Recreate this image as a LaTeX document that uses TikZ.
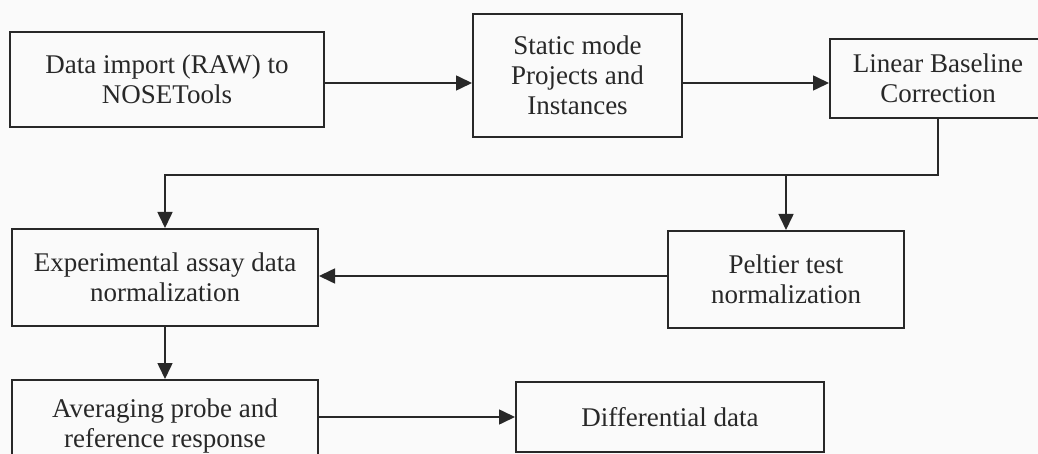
\documentclass[tikz,border=0pt]{standalone}
\usepackage{fontspec}
\setmainfont{Liberation Serif}
\usetikzlibrary{arrows.meta}

\definecolor{ink}{RGB}{40,40,40}
\definecolor{paper}{RGB}{250,250,250}

\begin{document}
\begin{tikzpicture}[x=0.5pt,y=-0.5pt,
  box/.style={draw=ink,line width=1pt,inner sep=0pt,align=center,text=ink,
    font=\fontsize{13.5}{15}\selectfont},
  flow/.style={draw=ink,line width=0.8pt,-{Triangle[length=8pt,width=7.5pt]}}]
  \fill[paper] (0,0) rectangle (1038,454);
  \useasboundingbox (0,0) rectangle (1038,454);

  \node[box,minimum width=157pt,minimum height=47.5pt] (S-1) at (167,79.5) {Data import (RAW) to\\NOSETools};
  \node[box,minimum width=104.5pt,minimum height=61.5pt] (S-2) at (577.5,75.5) {Static mode\\Projects and\\Instances};
  \node[box,minimum width=108pt,minimum height=39.5pt] (S-3) at (938,78.5) {Linear Baseline\\Correction};
  \node[box,minimum width=153pt,minimum height=48.5pt] (S-4) at (165,277.5) {Experimental assay data\\normalization};
  \node[box,minimum width=118pt,minimum height=48.5pt] (S-5) at (786,279.5) {Peltier test\\normalization};
  \node[box,minimum width=153pt,minimum height=46pt] (S-6) at (165,426) {Averaging probe and\\reference response};
  \node[box,minimum width=154pt,minimum height=35pt] (S-7) at (670,417) {Differential data};
  \coordinate (J) at (938,175);

  \draw[flow] (S-1.east |- 0,83) -- (S-2.west |- 0,83);
  \draw[flow] (S-2.east |- 0,83) -- (S-3.west |- 0,83);
  \draw[flow] (S-3.south) -- (J) -| (S-4.north);
  \draw[flow] (S-5.north |- J) -- (S-5.north);
  \draw[flow] (S-5.west |- 0,276) -- (S-4.east |- 0,276);
  \draw[flow] (S-4.south) -- (S-6.north);
  \draw[flow] (S-6.east |- S-7.west) -- (S-7.west);
\end{tikzpicture}
\end{document}
